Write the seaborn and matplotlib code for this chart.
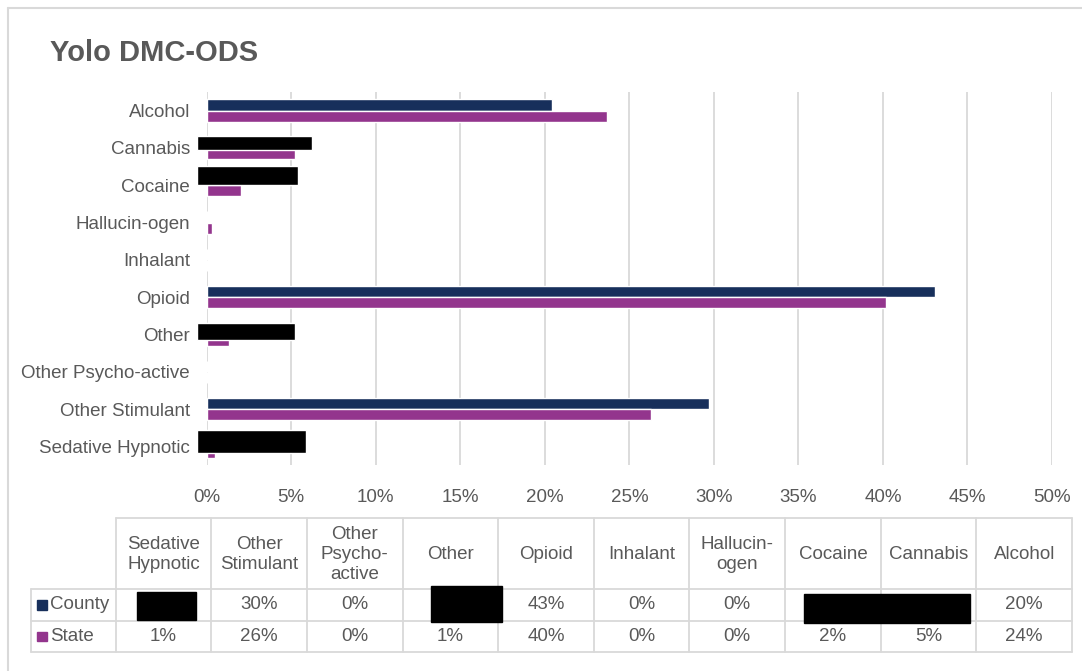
import matplotlib
matplotlib.use("Agg")
import matplotlib.pyplot as plt
from matplotlib.patches import Rectangle
from matplotlib.lines import Line2D
import seaborn as sns
import pandas as pd

# ---------------- data ----------------
categories = ["Alcohol", "Cannabis", "Cocaine", "Hallucin-ogen", "Inhalant",
              "Opioid", "Other", "Other Psycho-active", "Other Stimulant",
              "Sedative Hypnotic"]
series_names = ["County", "State"]
county = [20.4, 6.2, 5.4, 0.0, 0.0, 43.1, 5.2, 0.0, 29.7, 5.9]
state = [23.7, 5.2, 2.0, 0.3, 0.0, 40.2, 1.3, 0.0, 26.3, 0.5]
xtick_values = [0, 5, 10, 15, 20, 25, 30, 35, 40, 45, 50]
xtick_labels = ["0%", "5%", "10%", "15%", "20%", "25%", "30%", "35%", "40%", "45%", "50%"]

# redacted (blacked-out) county bars in the source image
redacted_cats = ["Cannabis", "Cocaine", "Other", "Sedative Hypnotic"]
redacted_ends = [6.2, 5.4, 5.2, 5.9]

table_cols = ["Sedative\nHypnotic", "Other\nStimulant", "Other\nPsycho-\nactive", "Other",
              "Opioid", "Inhalant", "Hallucin-\nogen", "Cocaine", "Cannabis", "Alcohol"]
county_row = ["", "30%", "0%", "", "43%", "0%", "0%", "", "", "20%"]
state_row = ["1%", "26%", "0%", "1%", "40%", "0%", "0%", "2%", "5%", "24%"]

# ---------------- style ----------------
NAVY = "#172f5b"
PURPLE = "#93358d"
GRAY_TXT = "#595959"
GRID = "#d9d9d9"

sns.set_style("white")
plt.rcParams["font.family"] = ["Liberation Sans", "DejaVu Sans"]

W, H = 1082, 671
fig = plt.figure(figsize=(W / 100, H / 100), dpi=100)
fig.patch.set_facecolor("white")

def fx(px):
    return px / W

def fy(py):
    return 1 - py / H

# outer border
fig.add_artist(Line2D([fx(8), fx(8)], [fy(8), 0], color=GRID, lw=1.5, transform=fig.transFigure))
fig.add_artist(Line2D([fx(8), 1], [fy(8), fy(8)], color=GRID, lw=1.5, transform=fig.transFigure))

fig.text(fx(50), fy(53), "Yolo DMC-ODS", fontsize=21, fontweight="bold",
         color=GRAY_TXT, va="center", ha="left")

# ---------------- bar chart ----------------
ax_left, ax_right, ax_top, ax_bot = 206.7, 1052, 92, 465
ax = fig.add_axes([fx(ax_left), fy(ax_bot), (ax_right - ax_left) / W, (ax_bot - ax_top) / H])

df = pd.DataFrame({
    "category": categories * 2,
    "value": county + state,
    "series": [series_names[0]] * len(categories) + [series_names[1]] * len(categories),
})
sns.barplot(data=df, y="category", x="value", hue="series", order=categories,
            hue_order=series_names, palette=[NAVY, PURPLE], orient="h",
            width=0.6, saturation=1, legend=False, ax=ax, zorder=2)

# redaction boxes over county bars
box_offsets = [-0.13, -0.26, -0.08, -0.13]
box_heights = [0.38, 0.53, 0.48, 0.62]
for cat, end, off, h in zip(redacted_cats, redacted_ends, box_offsets, box_heights):
    i = categories.index(cat)
    ax.barh(i + off, end + 0.55, left=-0.55, height=h, color="black",
            clip_on=False, zorder=5)

ax.set_xlim(0, 50)
ax.set_ylim(len(categories) - 0.5, -0.5)
ax.set_xticks(xtick_values)
ax.set_xticklabels(xtick_labels)
ax.set_xlabel("")
ax.set_ylabel("")
ax.xaxis.grid(True, color=GRID, lw=1.3)
ax.yaxis.grid(False)
ax.set_axisbelow(True)
for s in ax.spines.values():
    s.set_visible(False)
ax.tick_params(axis="both", length=0, labelsize=13.5, labelcolor=GRAY_TXT)
ax.tick_params(axis="x", pad=17)
ax.tick_params(axis="y", pad=12)

# ---------------- data table ----------------
t_left, t_right, t_top, t_bot = 30.7, 1072, 518, 651.7
lab_w = (115.7 - t_left) / ((t_right - 115.7) / 10)
tax = fig.add_axes([fx(t_left), fy(t_bot), (t_right - t_left) / W, (t_bot - t_top) / H])
tax.set_xlim(-lab_w, 10)
tax.set_ylim(t_bot - t_top, 0)
tax.axis("off")

y_head, y_c, y_s = 71, 102.7, t_bot - t_top
lkw = dict(color=GRID, lw=1.3, clip_on=False)
tax.plot([0, 10], [0, 0], **lkw)
for yy in (y_head, y_c, y_s):
    tax.plot([-lab_w, 10], [yy, yy], **lkw)
tax.plot([-lab_w, -lab_w], [y_head, y_s], **lkw)
for j in range(11):
    tax.plot([j, j], [0, y_s], **lkw)

tkw = dict(ha="center", va="center", fontsize=13.5, color=GRAY_TXT)
for j, name in enumerate(table_cols):
    tax.text(j + 0.5, y_head / 2 + 1, name, linespacing=1.2, **tkw)
    tax.text(j + 0.5, (y_head + y_c) / 2, county_row[j], **tkw)
    tax.text(j + 0.5, (y_c + y_s) / 2, state_row[j], **tkw)

px_unit = (t_right - 115.7) / 10
for name, color, yc in ((series_names[0], NAVY, (y_head + y_c) / 2),
                        (series_names[1], PURPLE, (y_c + y_s) / 2)):
    sx = -lab_w + (37 - t_left) / px_unit
    tax.add_patch(Rectangle((sx, yc - 4.5), 9.5 / px_unit, 9.5, color=color, clip_on=False))
    tax.text(-lab_w + (50 - t_left) / px_unit, yc, name, ha="left", va="center",
             fontsize=13.5, color=GRAY_TXT)

# redaction boxes in table (converted from pixels)
def trect(x0, x1, y0, y1):
    tax.add_patch(Rectangle(((x0 - 115.7) / px_unit, y0 - t_top),
                            (x1 - x0) / px_unit, y1 - y0, color="black",
                            zorder=6, clip_on=False))

trect(137, 196, 592, 620)
trect(431, 502, 586, 622)
trect(804, 970, 594, 623)

fig.savefig("out.png", dpi=100, facecolor="white")
